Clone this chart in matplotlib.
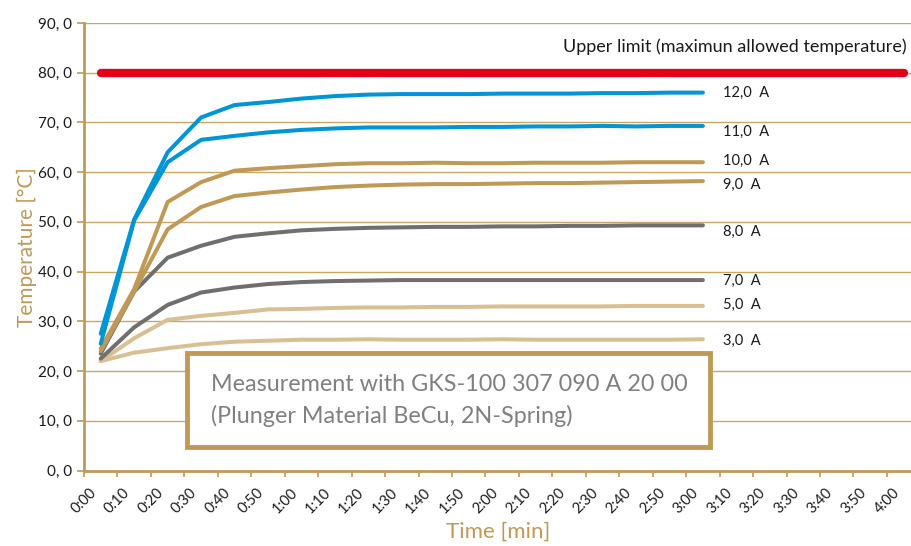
import matplotlib
matplotlib.use("Agg")
import matplotlib.pyplot as plt
from matplotlib.patches import Rectangle

plt.rcParams['font.family'] = ['Lato', 'DejaVu Sans']

# measurement times in seconds (one point every 10 s, starting 0:05)
times = [5, 15, 25, 35, 45, 55, 65, 75, 85, 95, 105, 115, 125, 135, 145, 155, 165, 175, 185]

t_12A = [27.5, 50.5, 64.0, 71.0, 73.5, 74.1, 74.8, 75.3, 75.6, 75.7, 75.7, 75.7, 75.8, 75.8, 75.8, 75.9, 75.9, 76.0, 76.0]
t_11A = [25.5, 50.3, 62.0, 66.5, 67.3, 68.0, 68.5, 68.8, 69.0, 69.0, 69.0, 69.1, 69.1, 69.2, 69.2, 69.3, 69.2, 69.3, 69.3]
t_10A = [24.5, 36.5, 54.0, 58.0, 60.3, 60.8, 61.2, 61.6, 61.8, 61.8, 61.9, 61.8, 61.8, 61.9, 61.9, 61.9, 62.0, 62.0, 62.0]
t_9A = [24.0, 36.0, 48.5, 53.0, 55.2, 55.9, 56.5, 57.0, 57.3, 57.5, 57.6, 57.6, 57.7, 57.8, 57.8, 57.9, 58.0, 58.1, 58.2]
t_8A = [23.5, 36.0, 42.8, 45.2, 47.0, 47.7, 48.3, 48.6, 48.8, 48.9, 49.0, 49.0, 49.1, 49.1, 49.2, 49.2, 49.3, 49.3, 49.3]
t_7A = [22.5, 28.8, 33.3, 35.8, 36.8, 37.5, 37.9, 38.1, 38.2, 38.3, 38.3, 38.3, 38.3, 38.3, 38.3, 38.3, 38.3, 38.3, 38.3]
t_5A = [22.0, 26.6, 30.3, 31.1, 31.7, 32.4, 32.5, 32.7, 32.8, 32.8, 32.9, 32.9, 33.0, 33.0, 33.0, 33.0, 33.1, 33.1, 33.1]
t_3A = [22.0, 23.7, 24.6, 25.4, 25.9, 26.1, 26.3, 26.3, 26.4, 26.3, 26.3, 26.3, 26.4, 26.3, 26.3, 26.3, 26.3, 26.3, 26.4]

labels = ["12,0  A", "11,0  A", "10,0  A", "9,0  A", "8,0  A", "7,0  A", "5,0  A", "3,0  A"]
label_y = [75.9, 68.2, 62.2, 57.5, 48.0, 38.2, 33.3, 26.1]

limit_x = [5, 245]
limit_y = [80, 80]

tick_secs = list(range(0, 241, 10))
y_ticks = list(range(0, 91, 10))

gold = '#bf9a57'
blue = '#0096d6'
grey = '#6f6f6f'
tan = '#d8bf94'
red = '#e2001a'

fig = plt.figure(figsize=(9.12, 5.46), dpi=100)
ax = fig.add_axes([84/912, 1-470.5/546, 828/912, 447.5/546])

for v in y_ticks[1:]:
    ax.axhline(v, color='#c9a566', lw=1.0, zorder=1)

series = [t_12A, t_11A, t_10A, t_9A, t_8A, t_7A, t_5A, t_3A]
colors = [blue, blue, gold, gold, grey, grey, tan, tan]
for s, c in zip(series[::-1], colors[::-1]):
    ax.plot(times, s, color=c, lw=2.9, solid_capstyle='round', solid_joinstyle='miter', zorder=3)

for lab, y in zip(labels, label_y):
    ax.text(191, y, lab, fontsize=10.5, color='#1a1a1a', ha='left', va='center')

ax.plot(limit_x, limit_y, color=red, lw=6, solid_capstyle='round', zorder=4)
ax.text(246, 85.2, "Upper limit (maximun allowed temperature)", fontsize=13,
        color='#1a1a1a', ha='right', va='center')

ax.set_xlim(0, 247.5)
ax.set_ylim(0, 90)
ax.set_xticks(tick_secs)
ax.set_xticklabels([f"{s // 60}:{s % 60:02d}" for s in tick_secs], rotation=45,
                   ha='center', va='top', fontsize=10.5)
ax.set_yticks(y_ticks)
ax.set_yticklabels([f"{v}, 0" for v in y_ticks], fontsize=11)

for side in ['top', 'right']:
    ax.spines[side].set_visible(False)
for side in ['left', 'bottom']:
    ax.spines[side].set_color(gold)
    ax.spines[side].set_linewidth(2)
ax.tick_params(axis='both', colors=gold, labelcolor='#1a1a1a', width=1.2)
ax.tick_params(axis='y', length=5)
ax.tick_params(axis='x', length=4, pad=7)

ax.set_ylabel("Temperature [°C]", color=gold, fontsize=15, labelpad=1)
ax.set_xlabel("Time [min]", color=gold, fontsize=16, labelpad=4)

ax.add_patch(Rectangle((0.1244, 0.0525), 0.6316, 0.2101, transform=ax.transAxes,
                       facecolor='white', edgecolor=gold, lw=3.5, zorder=5))
ax.text(0.153, 0.193, "Measurement with GKS-100 307 090 A 20 00", transform=ax.transAxes,
        fontsize=16.8, color='#808080', ha='left', va='center', zorder=6)
ax.text(0.153, 0.122, "(Plunger Material BeCu, 2N-Spring)", transform=ax.transAxes,
        fontsize=16.8, color='#808080', ha='left', va='center', zorder=6)

fig.savefig("out.png", dpi=100)
